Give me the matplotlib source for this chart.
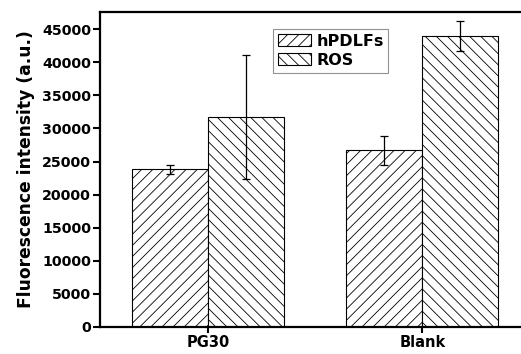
import numpy as np
import matplotlib
matplotlib.use("Agg")
import matplotlib.pyplot as plt

plt.rcParams['font.family'] = ['DejaVu Sans']
plt.rcParams['font.weight'] = 'bold'
plt.rcParams['hatch.linewidth'] = 0.6

# Data
groups = ["PG30", "Blank"]
series = ["hPDLFs", "ROS"]
hpdlfs = [23850, 26700]
hpdlfs_err = [700, 2150]
ros = [31750, 43950]
ros_err = [9400, 2250]
hatches = ["///", "\\\\\\"]

fig = plt.figure(figsize=(5.21, 3.54), dpi=100)
ax = fig.add_axes([100 / 521, 27 / 354, 1 - 100 / 521, 315 / 354])

x = np.arange(1, len(groups) + 1)
w = 0.355
err_kw = dict(elinewidth=0.9, capthick=0.9, ecolor="black")
ax.bar(x - w / 2, hpdlfs, w, yerr=hpdlfs_err, capsize=3, color="white",
       edgecolor="black", linewidth=0.8, hatch=hatches[0], label=series[0],
       error_kw=err_kw)
ax.bar(x + w / 2, ros, w, yerr=ros_err, capsize=3, color="white",
       edgecolor="black", linewidth=0.8, hatch=hatches[1], label=series[1],
       error_kw=err_kw)

ax.set_xlim(0.497, 2.46)
ax.set_ylim(0, 47600)
ax.set_xticks(x)
ax.set_xticklabels(groups, fontsize=10.5, fontweight="bold")
ax.set_yticks(np.arange(0, 45001, 5000))
ax.tick_params(axis="y", labelsize=10.3, direction="out", length=5, width=1.5, pad=1.5)
ax.tick_params(axis="x", direction="out", length=4.5, width=1.5, pad=1.5)
ax.set_ylabel("Fluorescence intensity (a.u.)", fontsize=12.3, fontweight="bold", labelpad=5)

for side in ["left", "bottom", "top"]:
    ax.spines[side].set_linewidth(1.6)
ax.spines["right"].set_visible(False)

leg = ax.legend(loc="upper left", bbox_to_anchor=(273 / 521, 1 - 29 / 354),
                bbox_transform=fig.transFigure, fontsize=11.5, frameon=True,
                fancybox=False, edgecolor="#777777", handlelength=2.1,
                handleheight=0.8, borderpad=0.3, labelspacing=0.25,
                handletextpad=0.3, borderaxespad=0)
leg.get_frame().set_linewidth(0.8)

fig.savefig("out.png", dpi=100)
